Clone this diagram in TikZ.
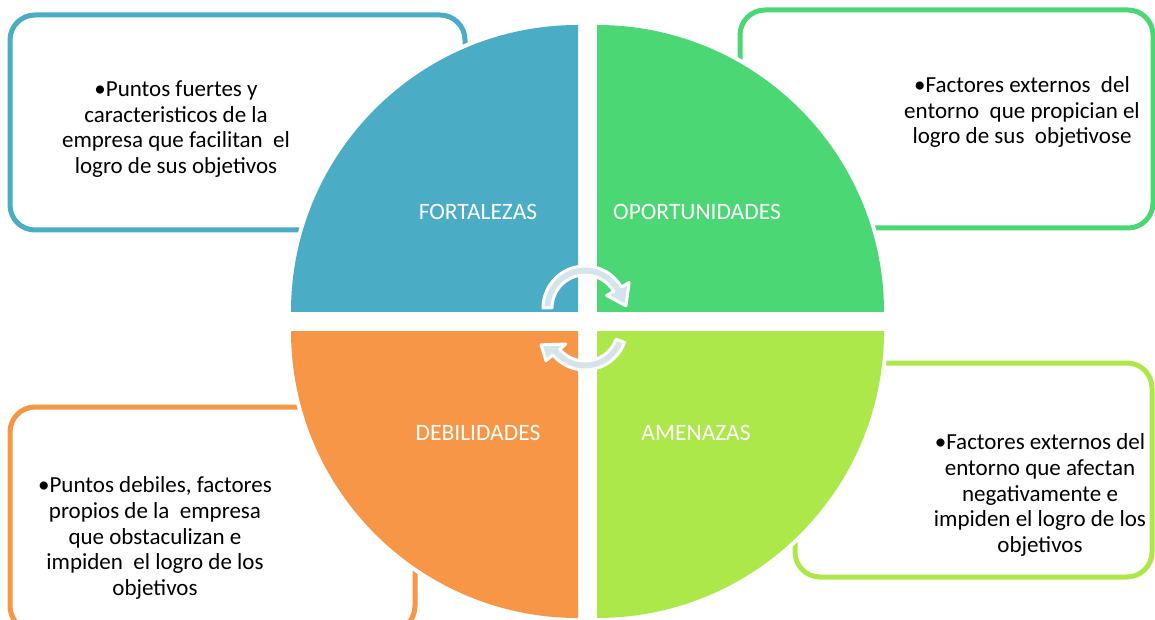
\documentclass[tikz,border=0pt]{standalone}
\usepackage{fontspec}
\setmainfont{Carlito}
\definecolor{fortcol}{HTML}{4BACC6}
\definecolor{oportcol}{HTML}{4AD774}
\definecolor{debilcol}{HTML}{F79646}
\definecolor{amenazcol}{HTML}{ADE84B}
\definecolor{arrowcol}{HTML}{D5E3EA}
\tikzset{%
    info box/.style={
      rectangle,
      draw,
      line width=5pt,
      rounded corners=25pt,
      inner sep=0pt
    },
    quadrant/.style={
      preaction={draw=white, line width=8pt}
    },
    quad label/.style={
      text=white,
      font=\fontsize{23.5}{28}\selectfont
    },
    info text/.style={
      align=center,
      font=\fontsize{23}{25.7}\selectfont
    },
    cycle arrow/.style={
      fill=arrowcol,
      draw=white,
      line width=3pt,
      line join=round
    }
  }

\begin{document}
\begin{tikzpicture}[x=1pt, y=1pt]
      \useasboundingbox (0,0) rectangle (1155,619);
      \clip (0,0) rectangle (1155,619);

      \node [info box, draw=fortcol, minimum width=455pt, minimum height=215pt] (fbox) at (237.5,496.5) {};
      \node [info box, draw=oportcol, minimum width=413pt, minimum height=218pt] (obox) at (946.5,500) {};
      \node [info box, draw=debilcol, minimum width=405pt, minimum height=224pt] (dbox) at (212.5,100) {};
      \node [info box, draw=amenazcol, minimum width=357pt, minimum height=214pt] (abox) at (973.5,149) {};

      \fill [fortcol, quadrant] (578,307) -- (291,307) arc[start angle=180, end angle=90, radius=287] -- cycle;
      \fill [oportcol, quadrant] (597,307) -- (597,594) arc[start angle=90, end angle=0, radius=287] -- cycle;
      \fill [debilcol, quadrant] (578,288) -- (291,288) arc[start angle=180, end angle=270, radius=287] -- cycle;
      \fill [amenazcol, quadrant] (597,288) -- (884,288) arc[start angle=0, end angle=-90, radius=287] -- cycle;

      \node [quad label] (fort) at (478,407) {FORTALEZAS};
      \node [quad label] (oport) at (697,407) {OPORTUNIDADES};
      \node [quad label] (debil) at (478,186) {DEBILIDADES};
      \node [quad label] (amenaz) at (696,186) {AMENAZAS};

      \node [info text] (ftxt) at (176,490) {\textbullet Puntos fuertes y\\caracteristicos de la\\empresa que facilitan\ \ el\\logro de sus objetivos};
      \node [info text] (otxt) at (1022,507) {\textbullet Factores externos\ \ del\\entorno\ \ que propician el\\logro de sus\ \ objetivose};
      \node [info text] (dtxt) at (155,81) {\textbullet Puntos debiles, factores\\propios de la\ \ empresa\\que obstaculizan e\\impiden\ \ el logro de los\\objetivos};
      \node [info text] (atxt) at (1040,124) {\textbullet Factores externos del\\entorno que afectan\\negativamente e\\impiden el logro de los\\objetivos};

      % cycle arrows in the middle
      \begin{scope}[shift={(585,311)}]
        \filldraw [cycle arrow] (180:42) arc[start angle=180, end angle=30, radius=42]
          -- (30:51) -- (3:41) -- (30:25) -- (30:33)
          arc[start angle=30, end angle=180, radius=33] -- cycle;
      \end{scope}
      \begin{scope}[shift={(585,291)}]
        \filldraw [cycle arrow] (-20:42) arc[start angle=-20, end angle=-140, radius=42]
          -- (-140:51) -- (-159:47) -- (-140:25) -- (-140:33)
          arc[start angle=-140, end angle=-20, radius=33] -- cycle;
      \end{scope}
\end{tikzpicture}
\end{document}
